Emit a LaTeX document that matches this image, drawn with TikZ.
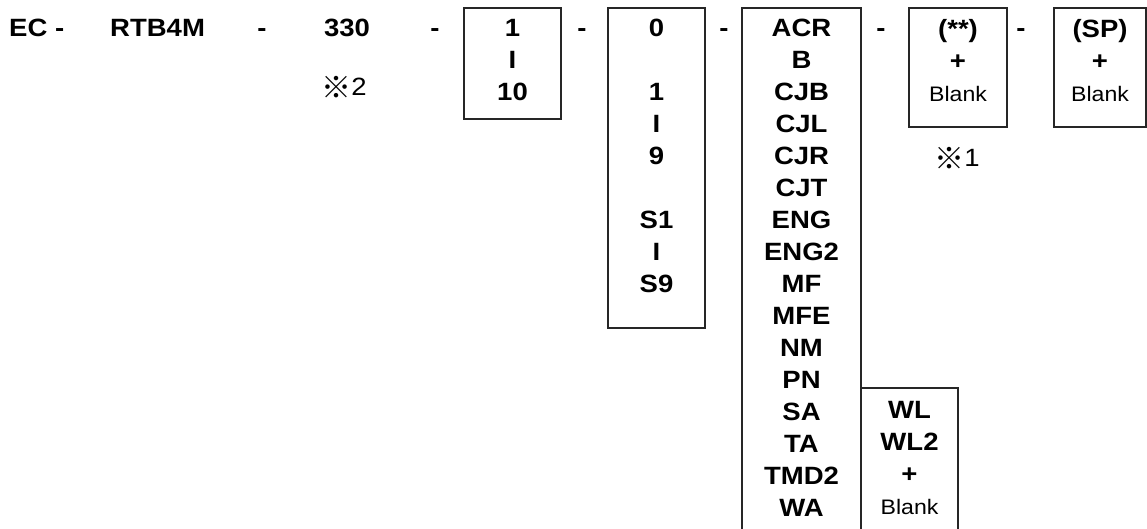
\documentclass[tikz,border=0pt]{standalone}
\usepackage{fontspec}
\setmainfont{Liberation Sans}[FakeStretch=1.1]
\newfontfamily\cjk{Noto Sans CJK JP}
\begin{document}
\begin{tikzpicture}[x=1pt,y=-1pt,
  box/.style={draw=black!85, line width=1.5pt, inner sep=0pt, outer sep=0pt, anchor=north west},
  lbl/.style={font=\fontsize{25}{32}\selectfont\bfseries, inner sep=0pt, align=center},
  note/.style={font=\fontsize{25}{28}\selectfont, inner sep=0pt, anchor=base}]
\useasboundingbox (0,0) rectangle (1147,529);
% boxes
\node[box, minimum width=97pt, minimum height=111pt] (b1) at (464,8) {};
\node[box, minimum width=97pt, minimum height=320pt] (b2) at (608,8) {};
\node[box, minimum width=119pt, minimum height=530pt] (b3) at (742,8) {};
\node[box, minimum width=97pt, minimum height=150pt] (b6) at (861,388) {};
\node[box, minimum width=98pt, minimum height=119pt] (b4) at (909,8) {};
\node[box, minimum width=92pt, minimum height=119pt] (b5) at (1054,8) {};
% top row
\node[lbl, anchor=base west] (ec) at (9,37) {EC -};
\node[lbl, anchor=base west] (rtb) at (110,37) {RTB4M};
\node[lbl, anchor=base] (d1) at (262,37) {-};
\node[lbl, anchor=base] (n330) at (347,37) {330};
\node[lbl, anchor=base] (d2) at (435,37) {-};
\node[lbl, anchor=base] (d3) at (582,37) {-};
\node[lbl, anchor=base] (d4) at (724,37) {-};
\node[lbl, anchor=base] (d5) at (881,37) {-};
\node[lbl, anchor=base] (d6) at (1021,37) {-};
% box contents
\node[lbl, anchor=north] (t1) at (512.5,19) {1\\I\\10};
\node[lbl, anchor=north] (t2) at (656.5,19) {0\\[32pt]1\\I\\9\\[32pt]S1\\I\\S9};
\node[lbl, anchor=north] (t3) at (801.5,19) {ACR\\B\\CJB\\CJL\\CJR\\CJT\\ENG\\ENG2\\MF\\MFE\\NM\\PN\\SA\\TA\\TMD2\\WA};
\node[lbl, anchor=north] (t4) at (958,19) {(**)\\+\\{\fontsize{21}{32}\selectfont\mdseries Blank}};
\node[lbl, anchor=north] (t5) at (1100,19) {(SP)\\+\\{\fontsize{21}{32}\selectfont\mdseries Blank}};
\node[lbl, anchor=north] (t6) at (909.5,401) {WL\\WL2\\+\\{\fontsize{21}{32}\selectfont\mdseries Blank}};
% notes
\node[note] (n2) at (344,96) {\raisebox{-3pt}{\cjk\fontsize{30}{30}\selectfont ※}2};
\node[note] (n1) at (957,167) {\raisebox{-3pt}{\cjk\fontsize{30}{30}\selectfont ※}1};
\end{tikzpicture}
\end{document}
